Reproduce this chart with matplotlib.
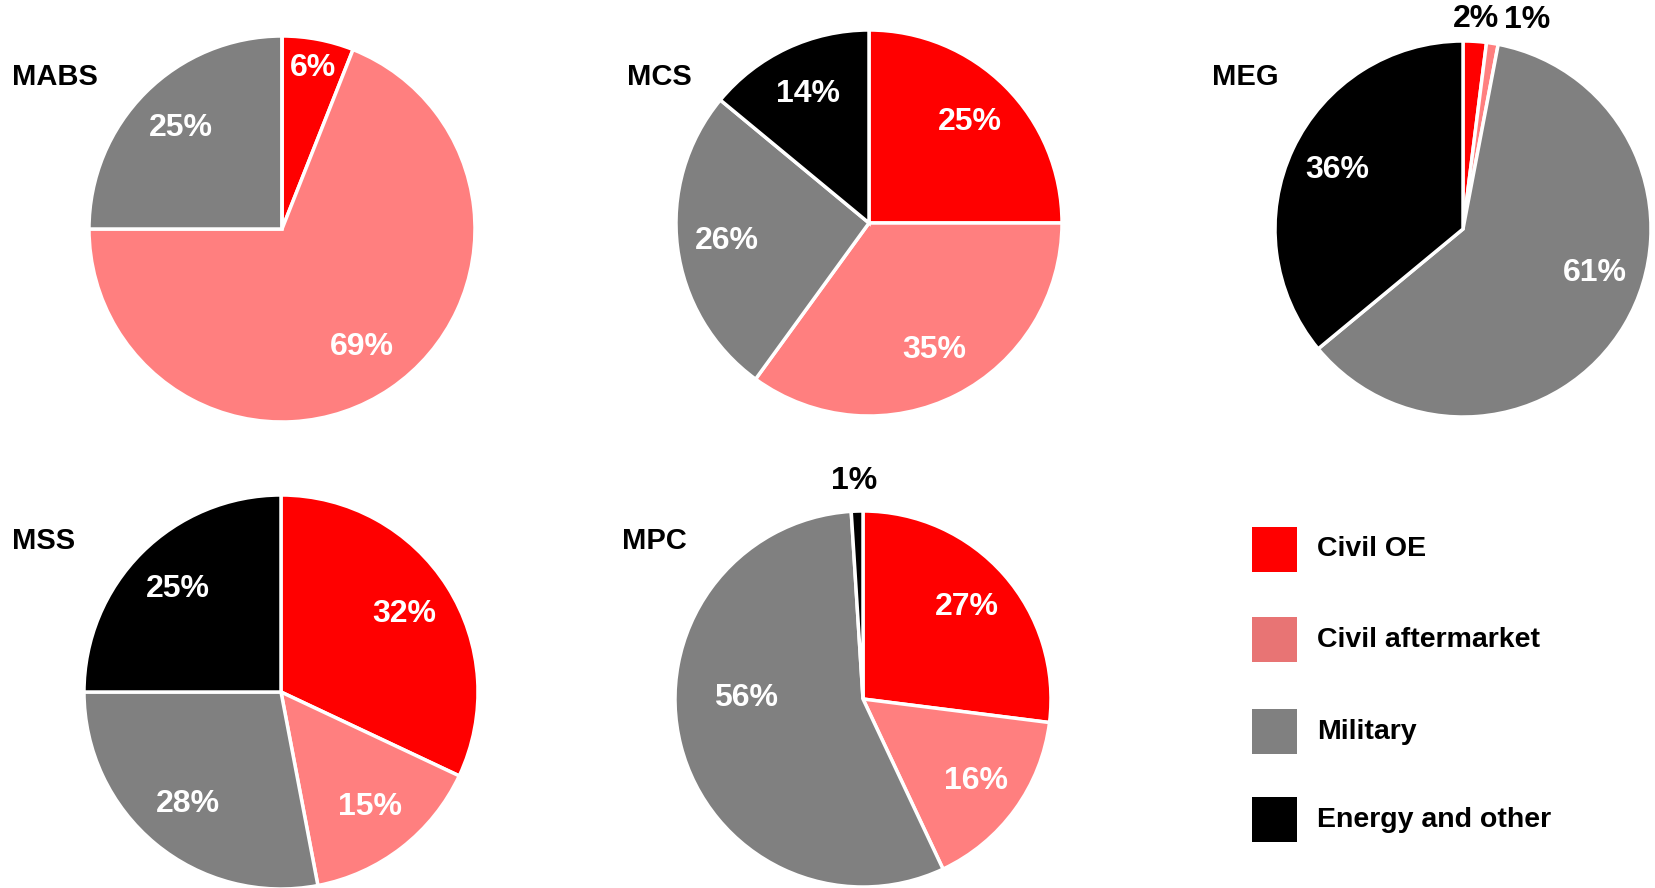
import numpy as np
import matplotlib.pyplot as plt
from matplotlib.patches import Rectangle

plt.rcParams['font.family'] = ['Liberation Sans', 'DejaVu Sans']
plt.rcParams['font.weight'] = 'bold'

categories = ["Civil OE", "Civil aftermarket", "Military", "Energy and other"]
pie_colors = ["#ff0000", "#ff7f7f", "#808080", "#000000"]
legend_colors = ["#ff0000", "#e87474", "#808080", "#000000"]

divisions = ["MABS", "MCS", "MEG", "MSS", "MPC"]
shares = {
    "MABS": [6, 69, 25, 0],
    "MCS": [25, 35, 26, 14],
    "MEG": [2, 1, 61, 36],
    "MSS": [32, 15, 28, 25],
    "MPC": [27, 16, 56, 1],
}

W, H = 1656, 888
# pixel centre x, centre y, radius, title left x, title centre y
layout = {
    "MABS": (282, 229, 193, 12, 77),
    "MCS": (869, 223, 193, 627, 77),
    "MEG": (1463, 229, 188, 1212, 77),
    "MSS": (281, 692, 197, 12, 541),
    "MPC": (863, 699, 188, 622, 541),
}
# label placement tweaks: (division, index) -> (radius factor, angle shift deg, colour)
label_tweaks = {
    ("MEG", 0): (1.12, 0.0, "black"),
    ("MEG", 1): (1.16, -8.0, "black"),
    ("MPC", 3): (1.16, 0.5, "black"),
    ("MPC", 2): (0.62, -15.0, "white"),
    ("MEG", 2): (0.74, 12.0, "white"),
}

fig = plt.figure(figsize=(W / 100, H / 100), dpi=100, facecolor="white")

for name in divisions:
    cx, cy, r, tx, ty = layout[name]
    ax = fig.add_axes([(cx - r) / W, 1 - (cy + r) / H, 2 * r / W, 2 * r / H])
    vals = shares[name]
    wedges, _ = ax.pie(vals, colors=pie_colors, startangle=90, counterclock=False,
                       radius=1, wedgeprops=dict(edgecolor="white", linewidth=2.5))
    ax.set_xlim(-1, 1)
    ax.set_ylim(-1, 1)
    ax.axis("off")
    for w in wedges:
        w.set_clip_on(False)
    for i, (w, v) in enumerate(zip(wedges, vals)):
        if v == 0:
            continue
        mid = (w.theta1 + w.theta2) / 2
        if (name, i) in label_tweaks:
            rf, shift, color = label_tweaks[(name, i)]
            mid += shift
        else:
            rf = 0.85 if v < 10 else 0.74
            color = "white"
        a = np.deg2rad(mid)
        ax.text(rf * np.cos(a), rf * np.sin(a), f"{v}%", ha="center", va="center",
                fontsize=23, fontweight="bold", color=color, clip_on=False)
    fig.text(tx / W, 1 - ty / H, name, ha="left", va="center",
             fontsize=21, fontweight="bold", color="black")

# legend
box_x, box = 1252, 45
box_tops = [527, 617, 709, 797]
for lab, col, top in zip(categories, legend_colors, box_tops):
    fig.patches.append(Rectangle((box_x / W, 1 - (top + box) / H), box / W, box / H,
                                 transform=fig.transFigure, facecolor=col, edgecolor="none"))
    fig.text(1317 / W, 1 - (top + box / 2) / H, lab, ha="left", va="center",
             fontsize=20.5, fontweight="bold", color="black")

fig.savefig("out.png", dpi=100, facecolor="white")
